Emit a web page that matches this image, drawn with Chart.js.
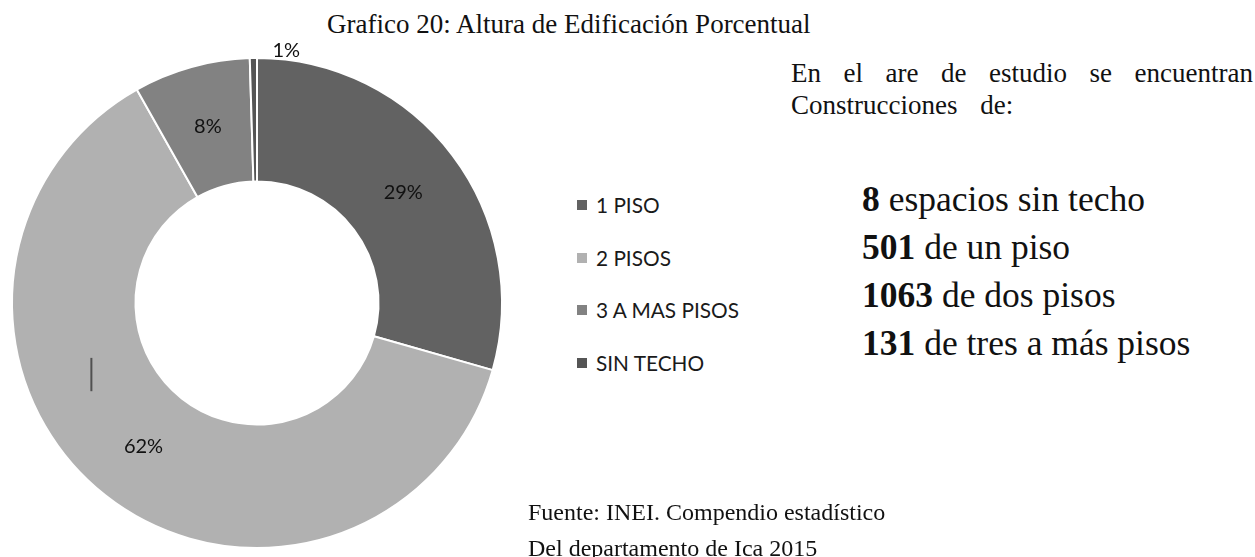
<!DOCTYPE html>
<html>
<head>
<meta charset="utf-8">
<script src="https://cdn.jsdelivr.net/npm/chart.js@4/dist/chart.umd.min.js"></script>
<style>
  html, body { margin: 0; padding: 0; background: #fff; }
  #page { position: relative; width: 1255px; height: 557px; overflow: hidden; }
  .serif { font-family: "Liberation Serif", "Times New Roman", serif; color: #111; position: absolute; white-space: nowrap; }
  #title { left: 327px; top: 11px; font-size: 27px; line-height: 27px; }
  #intro1 { left: 791px; top: 57px; width: 462px; font-size: 27px; line-height: 32px; text-align: justify; text-align-last: justify; }
  #intro2 { left: 791px; top: 89px; font-size: 27px; line-height: 32px; word-spacing: 16px; }
  #counts { left: 862px; top: 175px; font-size: 35.5px; line-height: 48px; }
  #counts b { font-weight: bold; }
  #source { left: 528px; top: 494px; font-size: 24px; line-height: 36px; }
  #chartBox { position: absolute; left: 0; top: 0; width: 530px; height: 557px; }
  #legend { position: absolute; left: 577px; top: 193px; font-family: Lato, "Open Sans", sans-serif; font-size: 20.8px; line-height: 24px; color: #1a1a1a; }
  .item { height: 52.6px; display: flex; align-items: flex-start; }
  .sw { width: 10px; height: 10px; margin-top: 7px; margin-right: 9px; }
</style>
</head>
<body>
<div id="page">
  <div id="title" class="serif">Grafico 20: Altura de Edificación Porcentual</div>
  <div id="chartBox"><canvas id="c"></canvas></div>
  <div id="legend"></div>
  <div id="intro1" class="serif">En el are de estudio se encuentran</div>
  <div id="intro2" class="serif">Construcciones de:</div>
  <div id="counts" class="serif"></div>
  <div id="source" class="serif">Fuente: INEI. Compendio estadístico<br>Del departamento de Ica 2015</div>
</div>
<script>
// Building counts by number of floors
const categories = ['1 PISO', '2 PISOS', '3 A MAS PISOS', 'SIN TECHO'];
const counts = [501, 1063, 131, 8];
const percentLabels = ['29%', '62%', '8%', '1%'];
const sliceColors = ['#626262', '#b1b1b1', '#828282', '#555555'];

// Text summary lines, in the order they are listed
const summaryOrder = [3, 0, 1, 2];
const summaryText = ['de un piso', 'de dos pisos', 'de tres a más pisos', 'espacios sin techo'];

const countsEl = document.getElementById('counts');
countsEl.innerHTML = summaryOrder
  .map(i => '<b>' + counts[i] + '</b> ' + summaryText[i])
  .join('<br>');

const legendEl = document.getElementById('legend');
legendEl.innerHTML = categories
  .map((c, i) => '<div class="item"><div class="sw" style="background:' + sliceColors[i] + '"></div><span>' + c + '</span></div>')
  .join('');

// Percentage labels at the middle of each ring segment; the thin last one sits outside
const sliceLabels = {
  id: 'sliceLabels',
  afterDatasetsDraw(chart) {
    const ctx = chart.ctx;
    const meta = chart.getDatasetMeta(0);
    ctx.save();
    ctx.font = '20px Lato, "Open Sans", sans-serif';
    ctx.fillStyle = '#111';
    ctx.textAlign = 'center';
    ctx.textBaseline = 'middle';
    meta.data.forEach((arc, i) => {
      const p = arc.getProps(['x', 'y', 'startAngle', 'endAngle', 'innerRadius', 'outerRadius'], true);
      const mid = (p.startAngle + p.endAngle) / 2;
      if (i === meta.data.length - 1) {
        const r = p.outerRadius + 7;
        ctx.fillText(percentLabels[i], p.x + Math.cos(mid) * r + 33, p.y + Math.sin(mid) * r);
      } else {
        const r = (p.innerRadius + p.outerRadius) / 2;
        ctx.fillText(percentLabels[i], p.x + Math.cos(mid) * r, p.y + Math.sin(mid) * r);
      }
    });
    // short leader stroke left inside the large segment
    const big = meta.data[1].getProps(['x', 'y', 'outerRadius'], true);
    ctx.strokeStyle = '#505050';
    ctx.lineWidth = 2;
    ctx.beginPath();
    ctx.moveTo(big.x - big.outerRadius * 0.676, big.y + big.outerRadius * 0.224);
    ctx.lineTo(big.x - big.outerRadius * 0.676, big.y + big.outerRadius * 0.36);
    ctx.stroke();
    ctx.restore();
  }
};

new Chart(document.getElementById('c'), {
  type: 'doughnut',
  data: {
    labels: categories,
    datasets: [{
      data: counts,
      backgroundColor: sliceColors,
      borderColor: '#ffffff',
      borderWidth: 2
    }]
  },
  options: {
    responsive: true,
    maintainAspectRatio: false,
    animation: false,
    cutout: '49.6%',
    layout: { padding: { left: 11, top: 57, right: 27, bottom: 8 } },
    plugins: {
      legend: { display: false },
      tooltip: { enabled: false },
      title: { display: false }
    }
  },
  plugins: [sliceLabels]
});
</script>
</body>
</html>
